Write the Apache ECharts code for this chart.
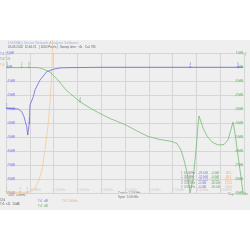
<!DOCTYPE html>
<html><head><meta charset="utf-8">
<script src="https://cdn.jsdelivr.net/npm/echarts@6/dist/echarts.min.js"></script>
<style>html,body{margin:0;padding:0;background:#fff}#c{width:250px;height:250px}</style>
</head><body><div id="c"></div>
<script>
// frequency (MHz) and trace values (dB)
const freqBlue = [15,258,330,378,435,456,490,504,574,609,714,855,994,1134,1275,1975,3025,4076,4979];
const s11 = [-29.5,-30,-31.9,-35.5,-42.6,-48.6,-40,-27.1,-21.2,-16.4,-9.3,-3.4,-1.6,-0.7,-0.5,-0.2,-0.2,-0.2,-0.2];
const freqGreen = [21,651,756,924,1092,1261,1408,1555,1765,1975,2185,2500,2752,2983,3235,3487,3592,3676,3739,3802,3844,3865,3886,3929,3992,4034,4055,4076,4139,4223,4328,4454,4580,4664,4706,4737,4769,4800,4853,4916,4958,4979];
const s21 = [-0.4,-0.4,-1.1,-3.6,-9.3,-16.4,-20.7,-24.8,-29.3,-33.2,-36.8,-41.1,-45.7,-49.6,-51.8,-53.2,-54.6,-59.3,-66.4,-75,-84.3,-90,-90,-80.7,-59.3,-41.4,-35,-37.1,-43.6,-49.3,-53.6,-55.7,-55.4,-52.1,-47.1,-45.7,-39.3,-45,-57.9,-73.6,-84.3,-90];
const freqOrange = [15,469,574,645,714,756,819,889,924,945,960,973,981];
const tr3 = [-89.5,-89.5,-87.9,-84.3,-78.4,-73.6,-59.3,-40,-25.7,-15,-4.3,10,19.3];
const leftTicks = ['10dB','0dB','-10dB','-20dB','-30dB','-40dB','-50dB','-60dB','-70dB','-80dB','-90dB'];
const xTicks = ['','500MHz','1.00GHz','1.50GHz','2.00GHz','2.50GHz','3.00GHz','3.50GHz','4.00GHz','4.50GHz',''];
const markerRows = [
 ['1','10.0MHz','-29.5dB','-0.4dB','-89.5'],
 ['2','300MHz','-31.9dB','-0.4dB','-89.5'],
 ['3','450MHz','-48.6dB','-0.4dB','-89.5'],
 ['4','3.87GHz','-0.2dB','-90.0dB','125.0'],
 ['5','4.98GHz','-0.2dB','-90.0dB','129.0']
];
const markerX = [3870, 4980];

const pair = (xs, ys) => xs.map((x, i) => [x, ys[i]]);
const chart = echarts.init(document.getElementById('c'), null, {renderer:'canvas'});
const F = 'Liberation Sans';
const tx = (x, y, t, c, s, extra) => Object.assign({type:'text', left:x, top:y, silent:true,
  style:{text:t, fill:c, font: (s||4) + 'px ' + F}}, extra||{});
const g = [
  {type:'rect', left:0, top:40, shape:{width:250, height:170}, style:{fill:'#efefef'}, z:-10},
  tx(8,41,'DG8SAQ Vector Network Analyzer Software','#9fb4dc',3.6),
  tx(8,45.5,'05.03.2020  12:46:21   ( 2000 Points )  Sweep time: ~4s   Cal: ON','#666',3),
  tx(0,53,'Tr1 S11','#7a7ae0',3),
  tx(0,58,'Tr2 S21','#6aaa6a',3),
  tx(0,64,'Tr3','#e8b070',3),
  tx(242,53,'Tr2','#6aaa6a',3),
  tx(8,194,'Start: 10MHz','#777',3),
  tx(118,192,'Center: 2.50GHz','#777',3),
  tx(118,196,'Span: 5.00GHz','#777',3),
  tx(228,193,'Stop: 5.00GHz','#777',3),
  tx(0,199,'Ch1','#666',3),
  tx(0,203,'Tr1: s11  10dB/','#666',3),
  tx(38,200,'Tr1  dB','#7a7ae0',3),
  tx(38,205,'Tr2  dB','#6aaa6a',3),
  tx(62,200,'Tr3  100/div','#e8b070',3)
];
markerRows.forEach((r, i) => {
  const y = 172 + i*3.4;
  g.push(tx(181,y,r[0],'#888',2.8), tx(184,y,r[1],'#888',2.8), tx(198,y,r[2],'#7a7ae0',2.8),
         tx(211,y,r[3],'#6aaa6a',2.8), tx(225,y,r[4],'#e8b070',2.8));
});

chart.setOption({
  animation:false,
  backgroundColor:'#ffffff',
  graphic: g,
  grid:{left:6, right:6, top:53, height:140, containLabel:false, show:true, backgroundColor:'#efefef', borderWidth:0},
  xAxis:{type:'value', min:0, max:5000, interval:500,
    axisLine:{show:false}, axisTick:{show:false},
    splitLine:{show:true, lineStyle:{color:'#d6d6d6', width:1}},
    axisLabel:{show:true, inside:true, fontSize:3, color:'#cccccc', fontFamily:F, align:'left',
      margin:1, formatter:(v)=> xTicks[Math.round(v/500)] || ''}},
  yAxis:[
    {type:'value', min:-90, max:10, interval:10,
     axisLine:{show:false}, axisTick:{show:false},
     splitLine:{show:true, lineStyle:{color:'#d6d6d6', width:1}},
     axisLabel:{inside:true, fontSize:3, color:'#7a7ae0', fontFamily:F, margin:1,
       backgroundColor:'#e0e0f4', formatter:(v)=> leftTicks[Math.round((10 - v)/10)]}},
    {type:'value', min:-90, max:10, interval:10, position:'right',
     axisLine:{show:false}, axisTick:{show:false}, splitLine:{show:false},
     axisLabel:{inside:true, fontSize:3, color:'#6aaa6a', fontFamily:F, margin:1,
       backgroundColor:'#d8ecd8', formatter:(v)=> leftTicks[Math.round((10 - v)/10)]}}
  ],
  series:[
    {type:'line', data:pair(freqOrange, tr3), symbol:'none', clip:false, z:3,
     lineStyle:{color:'#f5c68e', width:0.7}},
    {type:'line', data:pair(freqGreen, s21), symbol:'none', z:4,
     lineStyle:{color:'#66b366', width:0.7},
     markPoint:{symbol:'triangle', symbolSize:2, symbolRotate:180,
       itemStyle:{color:'#6aaa6a'},
       label:{show:true, position:'top', distance:0.5, fontSize:3, color:'#6aaa6a', formatter:(p)=>p.name},
       data:[{name:'1', coord:[21,-0.4]},{name:'2', coord:[330,-0.4]},{name:'3', coord:[480,-0.4]},{name:'4', coord:[1555,-24.8]}]}},
    {type:'line', data:pair(freqBlue, s11), symbol:'none', z:5,
     lineStyle:{color:'#5858d8', width:0.7},
     markPoint:{symbol:'triangle', symbolSize:2, symbolRotate:180,
       itemStyle:{color:'#7a7ae0'},
       label:{show:true, position:'top', distance:0.5, fontSize:3, color:'#7a7ae0', formatter:(p)=>p.name},
       data:[{name:'4', coord:[markerX[0],-0.2]},{name:'5', coord:[markerX[1]-110,-0.2]},{name:'1', coord:[15,-29.5]},{name:'3', coord:[490,-40]}]}},
    {type:'line', data:[], symbol:'none', z:2,
     markPoint:{symbol:'triangle', symbolSize:2, symbolRotate:180,
       itemStyle:{color:'#e8b070'},
       label:{show:true, position:'top', distance:0.5, fontSize:3, color:'#e8b070', formatter:(p)=>p.name},
       data:[{name:'4', coord:[markerX[0],14]},{name:'5', coord:[markerX[1]-110,14]},{name:'1', coord:[15,-89.5]},{name:'2', coord:[300,-89.5]},{name:'3', coord:[450,-89.5]}]}}
  ]
});
</script></body></html>
